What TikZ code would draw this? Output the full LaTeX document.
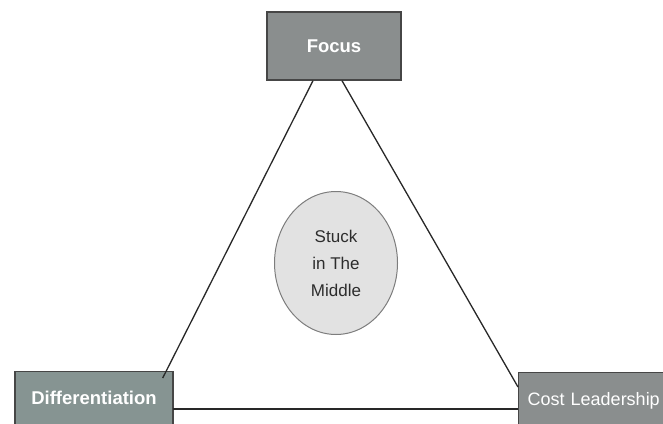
\documentclass[tikz,border=0pt]{standalone}
\usepackage{fontspec}
\setmainfont{Liberation Sans}
\usetikzlibrary{shapes.geometric}
\definecolor{boxfill}{RGB}{138,142,142}
\definecolor{boxfillg}{RGB}{134,148,146}
\definecolor{boxline}{RGB}{70,70,70}
\definecolor{ellfill}{RGB}{226,226,226}
\definecolor{ellline}{RGB}{125,125,125}
\definecolor{conn}{RGB}{40,40,40}
\definecolor{midtext}{RGB}{45,45,45}
\tikzset{
  stratbox/.style={draw=boxline, line width=1.4pt, fill=boxfill, text=white, inner sep=0pt},
  basebox/.style={stratbox, anchor=north, text height=33pt, text depth=27pt},
  connline/.style={draw=conn, line width=1.3pt},
}
\begin{document}
\begin{tikzpicture}[x=1pt,y=-1pt]
\useasboundingbox (0,0) rectangle (663,423);
\clip (0,0) rectangle (663,423);
\node[stratbox, minimum width=134pt, minimum height=68pt, font=\fontsize{18.5}{20}\selectfont\bfseries] (focus) at (334,46) {Focus};
\node[basebox, fill=boxfillg, minimum width=158pt, font=\fontsize{18.5}{20}\selectfont\bfseries] (diff) at (94,371) {Differentiation};
\node[basebox, font=\fontsize{18}{20}\selectfont, anchor=north west, text width=170pt] (cost) at (518,372) {\hspace*{9pt}Cost Leadership};
\node[ellipse, draw=ellline, line width=1pt, fill=ellfill, minimum width=123pt, minimum height=143pt, inner sep=0pt, text=midtext, align=center, font=\fontsize{17}{27}\selectfont] (mid) at (336,263) {Stuck\\in The\\Middle};
\draw[connline] ([xshift=-21pt]focus.south) -- ([xshift=-11pt,yshift=-7pt]diff.north east);
\draw[connline] ([xshift=8pt]focus.south) -- ([yshift=-15pt]cost.north west);
\draw[connline] ([xshift=-1pt,yshift=-38pt]diff.north east) -- ([yshift=-37pt]cost.north west);
\end{tikzpicture}
\end{document}
